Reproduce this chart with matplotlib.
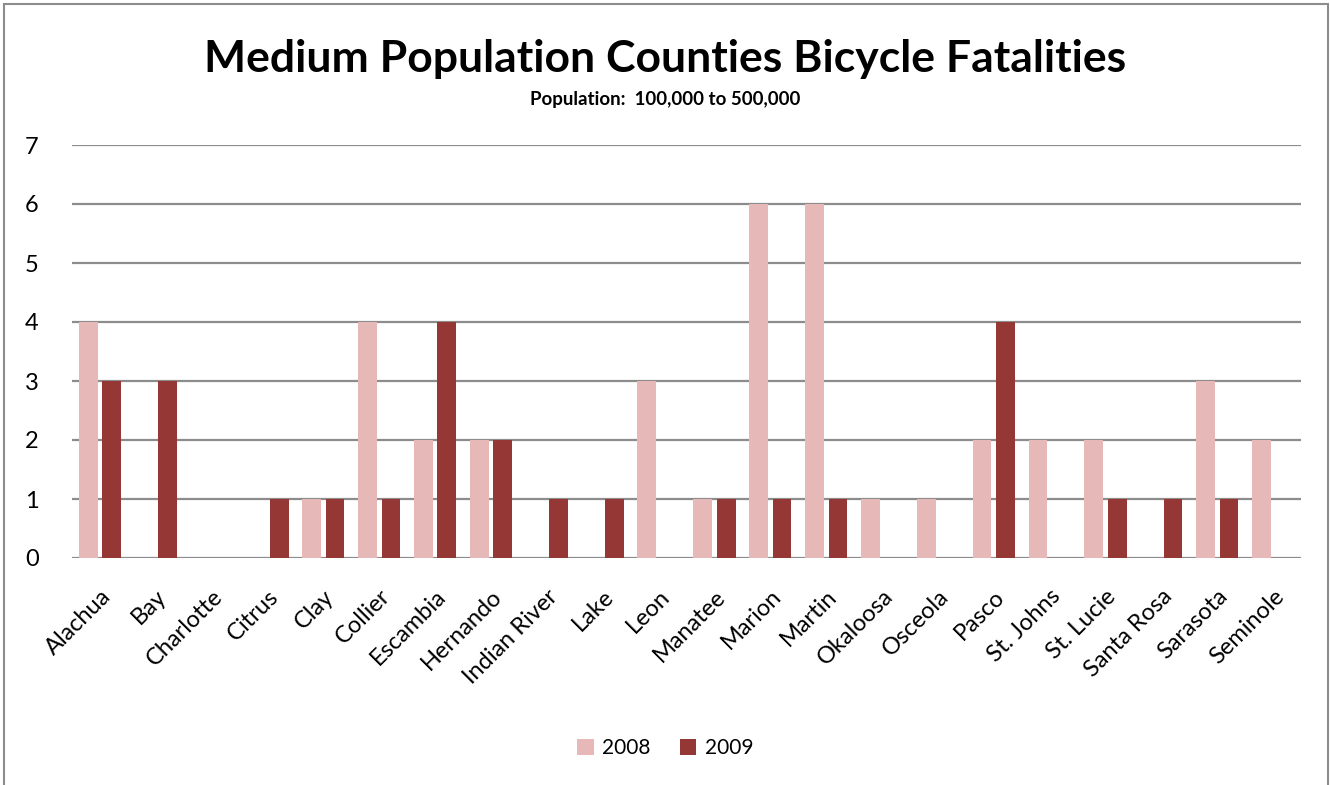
import numpy as np
import matplotlib.pyplot as plt

# Daten
counties = ['Alachua', 'Bay', 'Charlotte', 'Citrus', 'Clay', 'Collier', 'Escambia',
            'Hernando', 'Indian River', 'Lake', 'Leon', 'Manatee', 'Marion', 'Martin',
            'Okaloosa', 'Osceola', 'Pasco', 'St. Johns', 'St. Lucie', 'Santa Rosa',
            'Sarasota', 'Seminole']
fatal_2008 = [4, 0, 0, 0, 1, 4, 2, 2, 0, 0, 3, 1, 6, 6, 1, 1, 2, 2, 2, 0, 3, 2]
fatal_2009 = [3, 3, 0, 1, 1, 1, 4, 2, 1, 1, 0, 1, 1, 1, 0, 0, 4, 0, 1, 1, 1, 0]
y_ticks = [0, 1, 2, 3, 4, 5, 6, 7]

plt.rcParams['font.family'] = ['Lato', 'DejaVu Sans']

fig = plt.figure(figsize=(13.3, 7.85), dpi=100)
ax = fig.add_axes([72 / 1330, 1 - 558 / 785, (1301 - 72) / 1330, (558 - 145) / 785])

x = np.arange(len(counties))
w = 0.335
ax.bar(x - 0.21, fatal_2008, w, color='#E6B8B7', label='2008', zorder=3)
ax.bar(x + 0.21, fatal_2009, w, color='#953735', label='2009', zorder=3)

ax.set_xlim(-0.5, len(counties) - 0.5)
ax.set_ylim(0, 7)
ax.set_yticks(y_ticks)
ax.yaxis.grid(True, color='#8c8c8c', linewidth=1.6, zorder=0)
for s in ax.spines.values():
    s.set_visible(False)
ax.tick_params(axis='both', length=0, labelsize=17)
ax.tick_params(axis='y', pad=24)
ax.set_xticks(x)
ax.set_xticklabels(counties, rotation=45, ha='right', rotation_mode='anchor')
ax.tick_params(axis='x', pad=20)

fig.text(0.5, 1 - 59 / 785, 'Medium Population Counties Bicycle Fatalities',
         ha='center', va='center', fontsize=32, fontweight='bold')
fig.text(0.5, 1 - 100 / 785, 'Population:  100,000 to 500,000',
         ha='center', va='center', fontsize=13.5, fontweight='bold')

fig.legend(loc='center', bbox_to_anchor=(0.5, 1 - 748 / 785), ncol=2, frameon=False,
           fontsize=15, handlelength=0.8, handleheight=0.8, handletextpad=0.4,
           columnspacing=1.4)

# Rahmen
fig.patches.append(plt.Rectangle((4 / 1330, -0.01), 1324 / 1330, 1 - 4 / 785 + 0.01,
                                 transform=fig.transFigure, fill=False,
                                 edgecolor='#8c8c8c', linewidth=1.5))

plt.savefig('out.png', dpi=100)
